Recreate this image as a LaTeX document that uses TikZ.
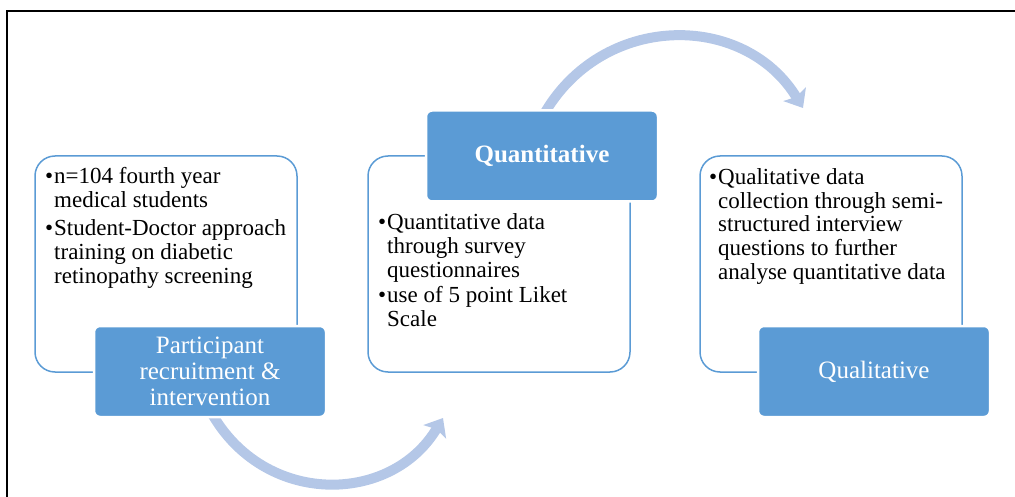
\documentclass[tikz,border=0pt]{standalone}
\usepackage{fontspec}
\setmainfont{Liberation Serif}
\usepackage{xcolor}
\usetikzlibrary{arrows.meta}

\definecolor{boxblue}{HTML}{5B9BD5}
\definecolor{arcblue}{HTML}{B4C7E7}

\newcommand{\bul}{\makebox[9pt][l]{\textbullet}}
\newcommand{\ind}{\hspace*{9pt}}

\tikzset{
  outline/.style={draw=boxblue, line width=1.5pt, rounded corners=20pt,
    minimum width=262pt, minimum height=216pt, inner sep=0pt},
  header/.style={fill=boxblue, draw=white, line width=2.5pt, rounded corners=6pt,
    minimum width=232pt, minimum height=91pt, inner sep=0pt,
    text=white, align=center, font=\fontsize{25}{26}\selectfont},
  bodytext/.style={anchor=north west, inner sep=0pt, align=left,
    font=\fontsize{23}{23.7}\selectfont},
  cycle/.style={draw=arcblue, line width=10pt,
    -{Stealth[length=16pt, width=26pt, inset=3pt]}}
}

\begin{document}
\begin{tikzpicture}[x=1pt, y=-1pt]
    \useasboundingbox (0,0) rectangle (1015,497);

    \draw[line width=2pt] (7,497) -- (7,11) -- (1015,11);

    % outlined boxes
    \node[outline] (recruitbox) at (166,264) {};
    \node[outline] (quantbox) at (499,264) {};
    \node[outline] (qualbox) at (831,264) {};

    % cycle arrows
    \coordinate (lowstart) at (211,412);
    \coordinate (lowend) at (443,418);
    \coordinate (highstart) at (543,116);
    \coordinate (highend) at (803,108);
    \draw[cycle] (lowstart) .. controls (264,507) and (391,505) .. (lowend);
    \draw[cycle] (highstart) .. controls (601,12) and (744,11) .. (highend);

    % headers
    \node[header] (recruithead) at (210,371.5) {Participant\\recruitment \&\\intervention};
    \node[header, font=\fontsize{25}{26}\selectfont\bfseries] (quanthead) at (542,156) {Quantitative};
    \node[header] (qualhead) at (874,371.5) {Qualitative};

    % bullet texts
    \node[bodytext] (recruittext) at (45,167.6) {\bul n=104 fourth year\\ \ind medical students\\[4.6pt]
      \bul Student-Doctor approach\\ \ind training on diabetic\\ \ind retinopathy screening};
    \node[bodytext] (quanttext) at (378,213.6) {\bul Quantitative data\\ \ind through survey\\ \ind questionnaires\\[1.5pt]
      \bul use of 5 point Liket\\ \ind Scale};
    \node[bodytext] (qualtext) at (709,168.3) {\bul Qualitative data\\ \ind collection through semi-\\
      \ind structured interview\\ \ind questions to further\\ \ind analyse quantitative data};

\end{tikzpicture}
\end{document}
